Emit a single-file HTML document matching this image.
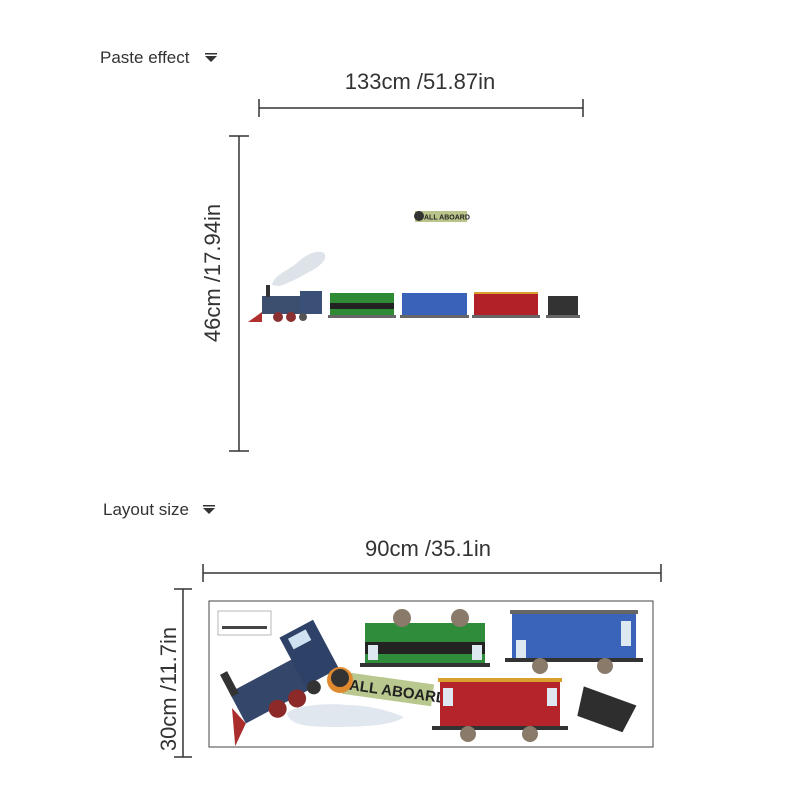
<!DOCTYPE html>
<html><head><style>
body{margin:0;background:#fff;}
svg{display:block;font-family:"Liberation Sans",sans-serif;}
</style></head><body>
<svg width="800" height="800" viewBox="0 0 800 800">
<g fill="#333">
<text x="100" y="63" font-size="17">Paste effect</text>
<path d="M205 56h12l-6 6z M205 53h12v1.5h-12z"/>
<text x="103" y="515" font-size="17">Layout size</text>
<path d="M203 508h12l-6 6z M203 505h12v1.5h-12z"/>
<text x="420" y="89" font-size="22" text-anchor="middle">133cm /51.87in</text>
<text x="428" y="556" font-size="22" text-anchor="middle">90cm /35.1in</text>
<text transform="translate(220,273) rotate(-90)" font-size="22" text-anchor="middle">46cm /17.94in</text>
<text transform="translate(176,689) rotate(-90)" font-size="22" text-anchor="middle">30cm /11.7in</text>
</g>
<g stroke="#333" stroke-width="1.5" fill="none">
<path d="M259 108H583M259 99v18M583 99v18"/>
<path d="M239 136V451M229 136h20M229 451h20"/>
<path d="M203 573H661M203 564v18M661 564v18"/>
<path d="M183 589V757M174 589h18M174 757h18"/>
</g>
<!-- top train -->
<path d="M272 285c2-10 15-14 25-22 8-8 20-14 27-10 5 6-5 14-15 19-10 6-22 12-30 14z" fill="#dde3e8"/>
<rect x="415" y="211" width="52" height="11" fill="#b9c48a"/>
<circle cx="419" cy="216" r="5" fill="#333"/>
<text x="424" y="219.5" font-size="7" font-weight="bold" fill="#222">ALL ABOARD</text>
<g>
<rect x="262" y="296" width="40" height="18" fill="#3d4f6e"/>
<rect x="300" y="291" width="22" height="23" fill="#3b5077"/>
<rect x="266" y="285" width="4" height="12" fill="#333"/>
<path d="M248 322l14-10v10z" fill="#b03030"/>
<circle cx="278" cy="317" r="5" fill="#8a3030"/><circle cx="291" cy="317" r="5" fill="#8a3030"/><circle cx="303" cy="317" r="4" fill="#555"/>
<rect x="330" y="293" width="64" height="22" fill="#2f8a36"/><rect x="330" y="303" width="64" height="6" fill="#222"/>
<rect x="402" y="293" width="65" height="22" fill="#3a62b8"/>
<rect x="474" y="293" width="64" height="22" fill="#b22128"/><rect x="474" y="292" width="64" height="2" fill="#d9a030"/>
<rect x="548" y="296" width="30" height="20" fill="#333"/>
<g fill="#666"><rect x="328" y="315" width="68" height="3"/><rect x="400" y="315" width="69" height="3"/><rect x="472" y="315" width="68" height="3"/><rect x="546" y="315" width="34" height="3"/></g>
</g>
<!-- sheet -->
<rect x="209" y="601" width="444" height="146" fill="#fff" stroke="#444" stroke-width="1"/>
<rect x="218" y="611" width="53" height="24" fill="none" stroke="#999" stroke-width="0.7"/>
<g fill="#444"><rect x="222" y="626" width="45" height="3"/></g>
<!-- loco tilted -->
<g transform="translate(285,680) rotate(-28)">
<rect x="-55" y="-15" width="80" height="35" fill="#34466a"/>
<rect x="15" y="-40" width="38" height="55" fill="#2e4268"/>
<rect x="22" y="-35" width="20" height="12" fill="#cfe2f2"/>
<rect x="-55" y="-35" width="8" height="25" fill="#333"/>
<circle cx="-20" cy="22" r="9" fill="#8c2a2a"/><circle cx="2" cy="22" r="9" fill="#8c2a2a"/><circle cx="22" cy="20" r="7" fill="#333"/>
<path d="M-55 20l-20 15 15-35z" fill="#aa2d2d"/>
</g>
<path d="M287 713c10-8 40-10 60-8 20 0 40 5 57 12-10 8-40 10-65 10-25 0-50 0-52-14z" fill="#e0e7ee"/>
<!-- all aboard -->
<g transform="translate(345,672) rotate(8)">
<rect x="0" y="0" width="90" height="22" fill="#b8c88e"/>
<text x="6" y="17" font-size="15" font-weight="bold" fill="#222">ALL ABOARD</text>
</g>
<circle cx="340" cy="680" r="13" fill="#e08a30"/><circle cx="340" cy="678" r="9" fill="#333"/>
<!-- green -->
<rect x="365" y="623" width="120" height="40" fill="#2e8c3a"/>
<rect x="365" y="642" width="120" height="12" fill="#222"/>
<rect x="360" y="663" width="130" height="4" fill="#333"/>
<circle cx="402" cy="618" r="9" fill="#8a7a6a"/><circle cx="460" cy="618" r="9" fill="#8a7a6a"/>
<!-- blue -->
<rect x="512" y="613" width="124" height="45" fill="#3a63ba"/>
<rect x="510" y="610" width="128" height="4" fill="#666"/>
<rect x="505" y="658" width="138" height="4" fill="#333"/>
<circle cx="540" cy="666" r="8" fill="#8a7a6a"/><circle cx="605" cy="666" r="8" fill="#8a7a6a"/>
<!-- red -->
<rect x="440" y="681" width="120" height="45" fill="#b5232b"/>
<rect x="438" y="678" width="124" height="4" fill="#d9a030"/>
<rect x="432" y="726" width="136" height="4" fill="#333"/>
<circle cx="468" cy="734" r="8" fill="#8a7a6a"/><circle cx="530" cy="734" r="8" fill="#8a7a6a"/>
<g fill="#dde8f0"><rect x="443" y="688" width="10" height="18"/><rect x="547" y="688" width="10" height="18"/><rect x="516" y="640" width="10" height="18"/><rect x="621" y="621" width="10" height="25"/><rect x="368" y="645" width="10" height="15"/><rect x="472" y="645" width="10" height="15"/></g>
<!-- coal -->
<g transform="translate(605,710) rotate(20)">
<path d="M-28 -15h56l-4 30h-48z" fill="#2e2e2e"/>
</g>
</svg>
</body></html>
